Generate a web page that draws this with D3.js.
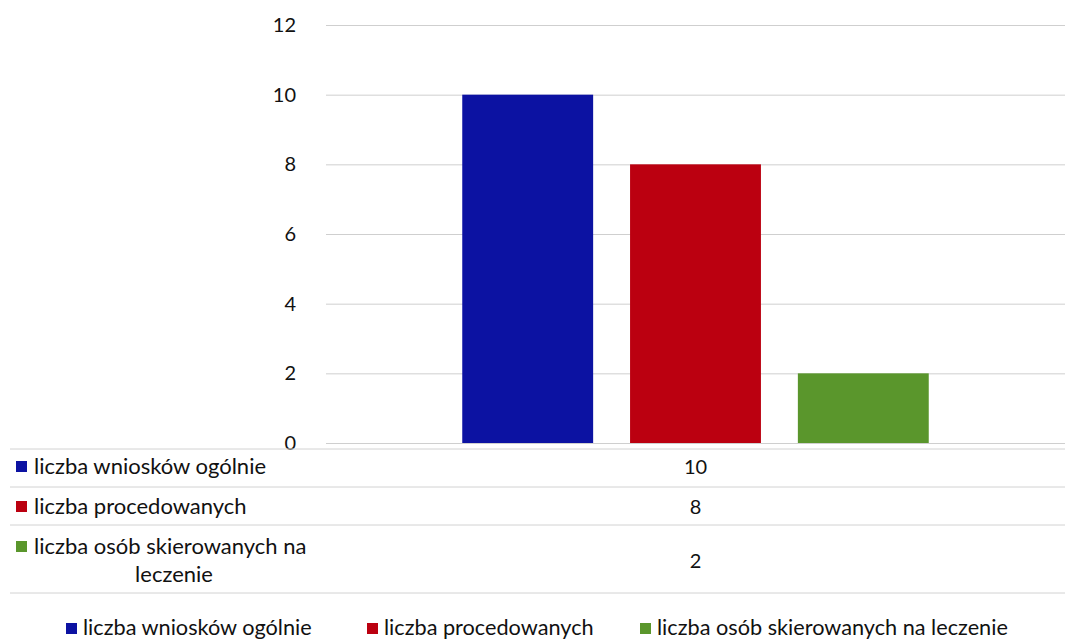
<!DOCTYPE html>
<html><head><meta charset="utf-8">
<script src="https://cdn.jsdelivr.net/npm/d3@7"></script>
<style>html,body{margin:0;padding:0;background:#fff;}svg{display:block;}</style>
</head><body>
<svg id="chart" width="1065" height="642"></svg>
<script>
const categories = [""];
const seriesNames = ["liczba wniosków ogólnie", "liczba procedowanych", "liczba osób skierowanych na leczenie"];
const seriesValues = [10, 8, 2];
const seriesColors = ["#0c12a2", "#bb0010", "#5a962c"];
const yTicks = [0, 2, 4, 6, 8, 10, 12];

const svg = d3.select("#chart");
const W = 1065;
const font = "Lato, 'Open Sans', sans-serif";
const plot = {left: 326, right: 1065, top: 25, bottom: 443};

const y = d3.scaleLinear().domain([0, 12]).range([plot.bottom, plot.top]);
const x0 = d3.scaleBand().domain(categories).range([plot.left, plot.right]).paddingInner(0).paddingOuter(0.234);
const x1 = d3.scaleBand().domain(seriesNames).range([0, x0.bandwidth()]).paddingInner(0.22).paddingOuter(0.11);

// gridlines + tick labels
const yAxis = d3.axisLeft(y).tickValues(yTicks).tickSize(-(plot.right - plot.left)).tickPadding(30);
const gy = svg.append("g").attr("transform", `translate(${plot.left},0)`).call(yAxis);
gy.select(".domain").remove();
gy.selectAll(".tick line").attr("stroke", "#cfcfcf").attr("stroke-width", 1);
gy.selectAll(".tick text").attr("fill", "#111").style("font-family", font).style("font-size", "20px");

// bars
const g = svg.append("g");
categories.forEach(cat => {
  g.selectAll("rect.bar").data(seriesNames.map((s, i) => ({s, v: seriesValues[i], c: seriesColors[i]})))
    .enter().append("rect")
    .attr("class", "bar")
    .attr("x", d => x0(cat) + x1(d.s))
    .attr("width", x1.bandwidth())
    .attr("y", d => y(d.v))
    .attr("height", d => y(0) - y(d.v))
    .attr("fill", d => d.c);
});

// data table
const tableLines = [449, 487, 525, 593];
svg.selectAll("line.tbl").data(tableLines).enter().append("line")
  .attr("x1", 10).attr("x2", W).attr("y1", d => d).attr("y2", d => d)
  .attr("stroke", "#d2d2d2").attr("stroke-width", 1);

const rowText = [
  {lines: ["liczba wniosków ogólnie"], ys: [474], vy: 474},
  {lines: ["liczba procedowanych"], ys: [514], vy: 514},
  {lines: ["liczba osób skierowanych na", "leczenie"], ys: [554, 582], vy: 568}
];
const valX = x0(categories[0]) + x0.bandwidth() / 2;
rowText.forEach((r, i) => {
  svg.append("rect").attr("x", 16).attr("y", r.ys[0] - 13).attr("width", 11).attr("height", 11).attr("fill", seriesColors[i]);
  svg.append("text").attr("x", 34).attr("y", r.ys[0]).text(r.lines[0])
    .style("font-family", font).style("font-size", "22px").attr("fill", "#111");
  if (r.lines[1]) {
    svg.append("text").attr("x", 174).attr("y", r.ys[1]).attr("text-anchor", "middle").text(r.lines[1])
      .style("font-family", font).style("font-size", "22px").attr("fill", "#111");
  }
  svg.append("text").attr("x", valX).attr("y", r.vy).attr("text-anchor", "middle").text(seriesValues[i])
    .style("font-family", font).style("font-size", "20px").attr("fill", "#111");
});

// legend
const legendX = [66, 367, 640];
seriesNames.forEach((s, i) => {
  svg.append("rect").attr("x", legendX[i]).attr("y", 623).attr("width", 11).attr("height", 11).attr("fill", seriesColors[i]);
  svg.append("text").attr("x", legendX[i] + 17).attr("y", 635).text(s)
    .style("font-family", font).style("font-size", "21.7px").attr("fill", "#111");
});
</script>
</body></html>
